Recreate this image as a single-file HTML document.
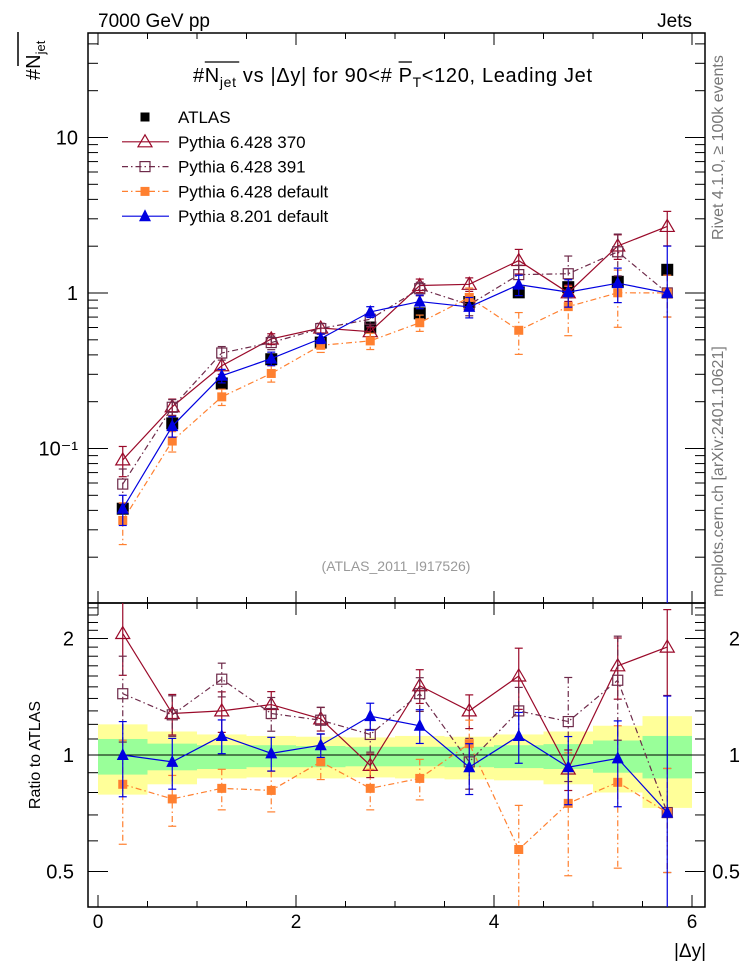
<!DOCTYPE html>
<html><head><meta charset="utf-8"><style>
html,body{margin:0;padding:0;background:#fff}
svg{display:block;font-family:"Liberation Sans",sans-serif}
</style></head><body>
<svg id="chart" width="746" height="972" viewBox="0 0 746 972" xmlns="http://www.w3.org/2000/svg">
<text x="98" y="27" font-size="19">7000 GeV pp</text>
<text x="692" y="27" font-size="19" text-anchor="end">Jets</text>
<g transform="translate(40,80) rotate(-90)"><text font-size="20">#N<tspan font-size="13" dy="5">jet</tspan></text><line x1="14" y1="-22" x2="48" y2="-22" stroke="#000" stroke-width="1.5"/></g>
<g><text id="ttl" x="193" y="82" font-size="20" textLength="399" lengthAdjust="spacing">#<tspan id="tN">N</tspan><tspan font-size="14" dy="5">jet</tspan><tspan dy="-5"> vs |Δy| for 90&lt;# </tspan><tspan id="tP">P</tspan><tspan font-size="14" dy="5">T</tspan><tspan dy="-5">&lt;120, Leading Jet</tspan></text>
<line id="olN" x1="205" y1="62" x2="238" y2="62" stroke="#000" stroke-width="1.3"/><line id="olP" x1="449" y1="62" x2="463" y2="62" stroke="#000" stroke-width="1.3"/></g>
<text transform="translate(723,240) rotate(-90)" font-size="16" fill="#777">Rivet 4.1.0, ≥ 100k events</text>
<text transform="translate(723,597) rotate(-90)" font-size="16" fill="#777">mcplots.cern.ch [arXiv:2401.10621]</text>
<text x="396" y="571" font-size="14" fill="#999" text-anchor="middle">(ATLAS_2011_I917526)</text>
<text transform="translate(40,755) rotate(-90)" font-size="16" text-anchor="middle">Ratio to ATLAS</text>
<text x="706" y="957" font-size="19" text-anchor="end">|Δy|</text>
<g id="bands"></g><g id="axes"></g><g id="series"></g><g id="legend"></g>
</svg>
<script>
const xCenters=[0.25,0.75,1.25,1.75,2.25,2.75,3.25,3.75,4.25,4.75,5.25,5.75];
const atlas=[0.041,0.145,0.262,0.375,0.48,0.60,0.74,0.875,1.01,1.09,1.18,1.41];
const ratio370=[2.06,1.28,1.30,1.35,1.24,0.94,1.51,1.30,1.60,0.92,1.70,1.90];
const ratio391=[1.44,1.27,1.57,1.28,1.23,1.13,1.44,0.96,1.30,1.22,1.56,0.71];
const ratio6def=[0.84,0.77,0.82,0.81,0.96,0.82,0.87,1.07,0.57,0.75,0.85,0.71];
const ratio8def=[1.0,0.96,1.12,1.01,1.06,1.26,1.19,0.93,1.12,0.93,0.98,0.71];
const err370=[0.22,0.12,0.12,0.08,0.07,0.07,0.1,0.1,0.18,0.12,0.18,0.25];
const err391=[0.25,0.12,0.1,0.1,0.08,0.1,0.1,0.15,0.15,0.3,0.3,0.3];
const err6def=[0.3,0.15,0.12,0.12,0.1,0.12,0.12,0.15,0.3,0.35,0.4,0.3];
const err8def=[0.22,0.15,0.1,0.1,0.07,0.08,0.1,0.15,0.15,0.2,0.25,1.0];
const greenHi=[1.10,1.07,1.06,1.06,1.055,1.05,1.05,1.05,1.06,1.067,1.09,1.12];
const greenLo=[0.89,0.913,0.92,0.93,0.93,0.935,0.935,0.93,0.925,0.92,0.90,0.87];
const yellowHi=[1.20,1.15,1.13,1.12,1.115,1.11,1.12,1.115,1.13,1.15,1.19,1.26];
const yellowLo=[0.79,0.84,0.87,0.875,0.87,0.875,0.87,0.865,0.86,0.84,0.80,0.73];
const xTicks=[0,2,4,6];
const mainTicks=[0.1,1,10];
const mainTickLabels=["10⁻¹","1","10"];
const ratioTicks=[0.5,1,2];
const ratioTickLabels=["0.5","1","2"];

const NS="http://www.w3.org/2000/svg";
const L=88,R=705,T=33,MB=603,RB=907;
const X=v=>98+v*99;
const Ym=v=>293-155.5*Math.log10(v);
const Yr=v=>755-116.5*Math.log2(v);
function mk(p,tag,at){const e=document.createElementNS(NS,tag);for(const k in at)e.setAttribute(k,at[k]);p.appendChild(e);return e;}
const bands=document.getElementById('bands'),axes=document.getElementById('axes'),ser=document.getElementById('series'),leg=document.getElementById('legend');
const clampM=y=>Math.max(T,Math.min(MB,y)), clampR=y=>Math.max(MB,Math.min(RB,y));

// title overlines positioned on N and P
try{
  const tn=document.getElementById('tN'),tp=document.getElementById('tP');
  const sN=tn.getStartPositionOfChar(0).x, eN=sN+tn.getComputedTextLength();
  const sP=tp.getStartPositionOfChar(0).x, eP=sP+tp.getComputedTextLength();
  const oN=document.getElementById('olN'),oP=document.getElementById('olP');
  oN.setAttribute('x1',sN);oN.setAttribute('x2',eN+20);
  oP.setAttribute('x1',sP);oP.setAttribute('x2',eP);
}catch(e){}

for(let i=0;i<xCenters.length;i++){
  const x1=X(xCenters[i]-0.25),x2=X(xCenters[i]+0.25);
  let e=mk(bands,'rect',{x:x1,y:Yr(yellowHi[i]),width:x2-x1,height:Yr(yellowLo[i])-Yr(yellowHi[i]),fill:'#ffff99'});
  
  e=mk(bands,'rect',{x:x1,y:Yr(greenHi[i]),width:x2-x1,height:Yr(greenLo[i])-Yr(greenHi[i]),fill:'#99ff99'});
  
}
mk(axes,'line',{x1:L,x2:R,y1:Yr(1),y2:Yr(1),stroke:'#000','stroke-width':1});
let fr=mk(axes,'rect',{x:L,y:T,width:R-L,height:MB-T,fill:'none',stroke:'#000','stroke-width':1.5});

fr=mk(axes,'rect',{x:L,y:MB,width:R-L,height:RB-MB,fill:'none',stroke:'#000','stroke-width':1.5});

for(let v=0;v<=6.01;v+=0.5){
  const maj=Math.abs(v-Math.round(v/2)*2)<1e-6, len=maj?12:6, x=X(v);
  [[T,1],[MB,-1],[MB,1],[RB,-1]].forEach(([y,d])=>mk(axes,'line',{x1:x,x2:x,y1:y,y2:y+d*len,stroke:'#000','stroke-width':1}));
}
xTicks.forEach(v=>{const t=mk(axes,'text',{x:X(v),y:928,'font-size':19,'text-anchor':'middle'});t.textContent=v;
});
for(let d=-2;d<=1;d++)for(let m=1;m<=9;m++){const v=m*Math.pow(10,d),y=Ym(v);if(y<T||y>MB)continue;const len=m==1?20:10;
  mk(axes,'line',{x1:L,x2:L+len,y1:y,y2:y,stroke:'#000'});mk(axes,'line',{x1:R,x2:R-len,y1:y,y2:y,stroke:'#000'});}
mainTicks.forEach((v,i)=>{const t=mk(axes,'text',{x:78,y:Ym(v)+7,'font-size':20,'text-anchor':'end'});t.textContent=mainTickLabels[i];
});
for(let v=0.4;v<=2.55;v+=0.1){const y=Yr(v);if(y<MB||y>RB)continue;const maj=[0.5,1,2].some(q=>Math.abs(q-v)<1e-6),len=maj?20:10;
  mk(axes,'line',{x1:L,x2:L+len,y1:y,y2:y,stroke:'#000'});mk(axes,'line',{x1:R,x2:R-len,y1:y,y2:y,stroke:'#000'});}
ratioTicks.forEach((v,i)=>{[74,740].forEach(x=>{const t=mk(axes,'text',{x:x,y:Yr(v)+7,'font-size':20,'text-anchor':'end'});t.textContent=ratioTickLabels[i];
});});

function marker(g,type,x,y,col){
  const s=6;
  if(type=='fsq')return mk(g,'rect',{x:x-s,y:y-s,width:2*s,height:2*s,fill:col});
  if(type=='osq')return mk(g,'rect',{x:x-5,y:y-5,width:10,height:10,fill:'none',stroke:col,'stroke-width':1.2});
  if(type=='ssq')return mk(g,'rect',{x:x-4.5,y:y-4.5,width:9,height:9,fill:col});
  if(type=='otri')return mk(g,'polygon',{points:`${x},${y-7} ${x-7},${y+5} ${x+7},${y+5}`,fill:'none',stroke:col,'stroke-width':1.2});
  if(type=='ftri')return mk(g,'polygon',{points:`${x},${y-7} ${x-6},${y+5} ${x+6},${y+5}`,fill:col});
}
const series=[
 {name:'pythia-6428-370',r:ratio370,e:err370,col:'#9a0a2a',dash:'',m:'otri'},
 {name:'pythia-6428-391',r:ratio391,e:err391,col:'#6e2a4a',dash:'6 3 1.5 3',m:'osq'},
 {name:'pythia-6428-default',r:ratio6def,e:err6def,col:'#ff8030',dash:'6 3 1.5 3',m:'ssq'},
 {name:'pythia-8201-default',r:ratio8def,e:err8def,col:'#0000e0',dash:'',m:'ftri'}];
const ga=mk(ser,'g',{});
atlas.forEach((v,i)=>{const m=marker(ga,'fsq',X(xCenters[i]),Ym(v),'#000');});
series.forEach(s=>{
  const g=mk(ser,'g',{});
  const vals=s.r.map((r,i)=>r*atlas[i]);
  [[vals,Ym,clampM],[s.r,Yr,clampR]].forEach(([arr,Y,cl])=>{
    const pts=arr.map((v,i)=>X(xCenters[i])+','+Y(v)).join(' ');
    const pl=mk(g,'polyline',{points:pts,fill:'none',stroke:s.col,'stroke-width':1.2,'stroke-dasharray':s.dash});
    
    arr.forEach((v,i)=>{const x=X(xCenters[i]);const lo=v*(1-s.e[i]),hi=v*(1+s.e[i]);
      const y1=cl(Y(hi)),y2=lo>0?cl(Y(lo)):cl(9999);
      const eb=mk(g,'line',{x1:x,x2:x,y1:y1,y2:y2,stroke:s.col,'stroke-width':1.2,'stroke-dasharray':s.dash});
      
      [y1,y2].forEach(yy=>{if(yy>T&&yy<RB&&yy!=MB)mk(g,'line',{x1:x-4,x2:x+4,y1:yy,y2:yy,stroke:s.col,'stroke-width':1.2});});
      const m=marker(g,s.m,x,Y(v),s.col);});
  });
});
const labels=['ATLAS','Pythia 6.428 370','Pythia 6.428 391','Pythia 6.428 default','Pythia 8.201 default'];
labels.forEach((lab,i)=>{const y=117+i*24.8;const g=mk(leg,'g',{});
  
  if(i>0){const s=series[i-1];mk(g,'line',{x1:122,x2:169,y1:y,y2:y,stroke:s.col,'stroke-width':1.2,'stroke-dasharray':s.dash});marker(g,s.m,145,y,s.col);}
  else marker(g,'ssq',145,y,'#000');
  const t=mk(g,'text',{x:178,y:y+6,'font-size':17});t.textContent=lab;});
</script>
</body></html>
